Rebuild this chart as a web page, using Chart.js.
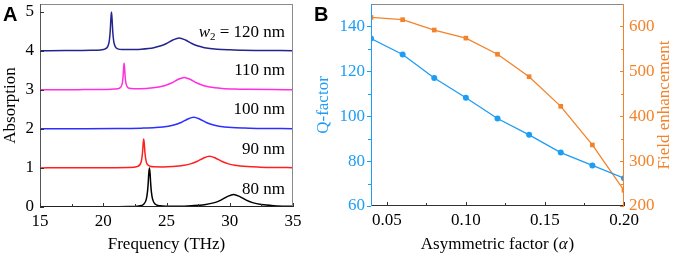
<!DOCTYPE html>
<html><head><meta charset="utf-8">
<script src="https://cdn.jsdelivr.net/npm/chart.js@4"></script>
<style>
html,body{margin:0;padding:0;background:#fff;width:678px;height:258px;overflow:hidden}
#a{position:absolute;left:0;top:0;width:305px;height:258px}
#b{position:absolute;left:305px;top:0;width:373px;height:258px}
</style></head><body>
<div id="a"><canvas id="ca"></canvas></div>
<div id="b"><canvas id="cb"></canvas></div>
<script>
// ---------- Panel A data ----------
const freq80 = [15,17,19,21,22,22.8,23.2,23.4,23.5,23.55,23.6,23.65,23.7,23.75,23.8,23.9,24.1,24.5,25,26,27,28,28.8,29.3,29.8,30.3,30.8,31.3,31.8,32.5,33.5,35];
const abs80  = [0.002,0.003,0.005,0.008,0.011,0.027,0.073,0.195,0.40,0.60,0.86,1.0,0.86,0.60,0.40,0.2,0.075,0.03,0.022,0.021,0.034,0.06,0.112,0.175,0.265,0.32,0.265,0.175,0.112,0.064,0.034,0.016];
const freq90 = [15,17,19,21,22,22.7,23.0,23.1,23.15,23.2,23.25,23.3,23.4,23.5,23.7,24.0,24.7,25.5,26.4,26.9,27.4,27.9,28.4,28.9,29.4,29.9,30.4,31.4,32.4,33.5,35];
const abs90  = [1.002,1.003,1.005,1.008,1.014,1.039,1.158,1.377,1.596,1.742,1.596,1.377,1.158,1.088,1.044,1.029,1.027,1.038,1.07,1.105,1.164,1.249,1.30,1.249,1.164,1.105,1.07,1.035,1.021,1.013,1.008];
const freq100 = [15,18,21,23,24.15,25.15,25.65,26.15,26.65,27.15,27.65,28.15,28.65,29.15,30.15,31.15,32.15,35];
const abs100  = [2.002,2.004,2.009,2.02,2.035,2.07,2.105,2.164,2.249,2.30,2.249,2.164,2.105,2.07,2.035,2.021,2.014,2.006];
const freq110 = [15,18,20,20.9,21.25,21.4,21.49,21.53,21.57,21.61,21.65,21.69,21.73,21.77,21.81,21.9,22.05,22.4,23.4,24.4,24.9,25.4,25.9,26.4,26.9,27.4,27.9,28.4,29.4,30.4,31.4,33.4,35];
const abs110  = [3.003,3.006,3.011,3.02,3.038,3.075,3.147,3.221,3.348,3.549,3.683,3.549,3.348,3.221,3.147,3.077,3.04,3.03,3.038,3.074,3.112,3.175,3.265,3.32,3.265,3.175,3.112,3.074,3.038,3.022,3.015,3.008,3.005];
const freq120 = [15,17,19,19.8,20.15,20.35,20.45,20.5,20.55,20.6,20.65,20.7,20.75,20.8,20.85,20.95,21.15,21.5,22.5,23,24,24.5,25,25.5,26,26.5,27,27.5,28,29,30,31,32,35];
const abs120  = [4.004,4.006,4.013,4.024,4.049,4.11,4.208,4.316,4.502,4.796,4.992,4.796,4.502,4.316,4.208,4.11,4.05,4.033,4.036,4.044,4.082,4.122,4.188,4.278,4.33,4.278,4.188,4.122,4.082,4.042,4.025,4.017,4.012,4.005];
const specNames = ['80 nm','90 nm','100 nm','110 nm','120 nm'];
const specLabelY = [0.45,1.48,2.5,3.5,4.48];
const specLabelX = 34.37;
const specTicksX = [15,20,25,30,35];
const specMinorX = [17.5,22.5,27.5,32.5];
const specTicksY = [0,1,2,3,4,5];

// ---------- Panel B data ----------
const alpha    = [0.04,0.06,0.08,0.10,0.12,0.14,0.16,0.18,0.20];
const qFactor  = [134.6,127.5,117,108.2,99,91.7,83.8,78.1,72.4];
const fieldEnh = [620,615,592,574,538,488,422,336,235];
const alphaTicks = [0.05,0.10,0.15,0.20];
const alphaMinor = [0.075,0.125,0.175];
const qTicks  = [60,80,100,120,140];
const qMinor  = [70,90,110,130];
const feTicks = [200,300,400,500,600];
const feMinor = [250,350,450,550];

const SERIF = "'Liberation Serif','Times New Roman',serif";
const SANS = "'Liberation Sans',Arial,sans-serif";
const BLUE = '#1e9df5', ORANGE = '#f3832a';
const specColors = ['#000000','#ff1f1f','#2e2eff','#ff2edf','#24248f'];

Chart.defaults.font.family = SERIF;
Chart.defaults.font.size = 17;
Chart.defaults.color = '#000';

function pts(xs, ys){ return xs.map((x,i)=>({x:x,y:ys[i]})); }
function setTicks(arr){ return s => { s.ticks = arr.map(v=>({value:v})); }; }
function px(v){ return Math.round(v)+0.5; }
const noGrid = {display:false, drawTicks:false, tickLength:0};

// ---------- Chart A ----------
const freqs = [freq80,freq90,freq100,freq110,freq120];
const abss  = [abs80,abs90,abs100,abs110,abs120];

const frameA = {
  id:'frameA',
  afterDatasetsDraw(chart){
    const {ctx, chartArea:{left,right,top,bottom}, scales:{x,y}} = chart;
    ctx.save();
    ctx.fillStyle = '#000';
    ctx.textBaseline = 'middle';
    const xr = x.getPixelForValue(specLabelX);
    specNames.forEach((n,i)=>{
      const yy = y.getPixelForValue(specLabelY[i]);
      if (i === 4) {
        ctx.font = '17px ' + SERIF;
        const rest = ' = ' + n;
        const wr = ctx.measureText(rest).width;
        ctx.font = '11px ' + SERIF;
        const ws = ctx.measureText('2').width;
        ctx.font = 'italic 17px ' + SERIF;
        const ww = ctx.measureText('w').width;
        let x0 = xr - wr - ws - ww;
        ctx.textAlign = 'left';
        ctx.fillText('w', x0, yy);
        ctx.font = '11px ' + SERIF;
        ctx.fillText('2', x0 + ww, yy + 5);
        ctx.font = '17px ' + SERIF;
        ctx.fillText(rest, x0 + ww + ws, yy);
      } else {
        ctx.font = '17px ' + SERIF;
        ctx.textAlign = 'right';
        ctx.fillText(n, xr, yy);
      }
    });
    ctx.lineWidth = 1;
    ctx.strokeStyle = '#8a8a8a';
    ctx.beginPath();
    ctx.moveTo(left, px(top)); ctx.lineTo(right, px(top));
    ctx.moveTo(px(right-1), top); ctx.lineTo(px(right-1), bottom);
    ctx.stroke();
    ctx.strokeStyle = '#555';
    ctx.beginPath(); ctx.moveTo(px(left), top); ctx.lineTo(px(left), bottom); ctx.stroke();
    ctx.strokeStyle = '#222';
    ctx.beginPath(); ctx.moveTo(left, px(bottom-1)); ctx.lineTo(right, px(bottom-1)); ctx.stroke();
    ctx.strokeStyle = '#333';
    ctx.beginPath();
    specTicksX.forEach(v=>{ const p = px(x.getPixelForValue(v)); ctx.moveTo(p,bottom); ctx.lineTo(p,bottom-4); });
    specMinorX.forEach(v=>{ const p = px(x.getPixelForValue(v)); ctx.moveTo(p,bottom); ctx.lineTo(p,bottom-3); });
    specTicksY.forEach(v=>{ const p = px(y.getPixelForValue(v)); ctx.moveTo(left,p); ctx.lineTo(left+4,p); });
    ctx.stroke();
    ctx.font = 'bold 20px ' + SANS;
    ctx.textAlign = 'left'; ctx.textBaseline = 'alphabetic';
    ctx.fillStyle = '#000';
    ctx.fillText('A', 3, 21);
    ctx.restore();
  }
};

new Chart(document.getElementById('ca'), {
  type:'line',
  data:{ datasets: freqs.map((f,i)=>({
    data: pts(f, abss[i]), borderColor: specColors[i], borderWidth: 1.5,
    pointRadius: 0, cubicInterpolationMode: 'monotone', fill: false
  }))},
  options:{
    responsive:true, maintainAspectRatio:false, animation:false, devicePixelRatio:1,
    layout:{padding:{top:4,right:12,left:0,bottom:0}},
    plugins:{legend:{display:false}, tooltip:{enabled:false}},
    scales:{
      x:{ type:'linear', min:15, max:35, afterBuildTicks:setTicks(specTicksX),
          afterFit:s=>{ s.height=51; s.paddingLeft=0; s.paddingRight=0; },
          grid:noGrid, border:{display:false},
          ticks:{padding:4, maxRotation:0, autoSkip:false, color:'#000'},
          title:{display:true, text:'Frequency (THz)', color:'#000', padding:{top:0,bottom:3}} },
      y:{ type:'linear', min:0, max:5.2, afterBuildTicks:setTicks(specTicksY),
          afterFit:s=>{ s.width=40; s.paddingTop=0; s.paddingBottom=0; },
          grid:noGrid, border:{display:false},
          ticks:{padding:6, color:'#000'},
          title:{display:true, text:'Absorption', color:'#000', padding:{top:0,bottom:0}} }
    }
  },
  plugins:[frameA]
});

// ---------- Chart B ----------
const frameB = {
  id:'frameB',
  afterDatasetsDraw(chart){
    const {ctx, chartArea:{left,right,top,bottom}, scales:{x,y,y2}} = chart;
    ctx.save();
    ctx.lineWidth = 1;
    ctx.strokeStyle = '#8a8a8a';
    ctx.beginPath(); ctx.moveTo(left, px(top)); ctx.lineTo(right, px(top)); ctx.stroke();
    ctx.strokeStyle = '#333';
    ctx.beginPath(); ctx.moveTo(left, px(bottom-1)); ctx.lineTo(right, px(bottom-1)); ctx.stroke();
    ctx.strokeStyle = BLUE;
    ctx.beginPath(); ctx.moveTo(px(left), top); ctx.lineTo(px(left), bottom); ctx.stroke();
    ctx.strokeStyle = ORANGE;
    ctx.beginPath(); ctx.moveTo(px(right-1), top); ctx.lineTo(px(right-1), bottom); ctx.stroke();
    ctx.strokeStyle = '#333';
    ctx.beginPath();
    alphaTicks.forEach(v=>{ const p = px(x.getPixelForValue(v)); ctx.moveTo(p,bottom); ctx.lineTo(p,bottom-4); });
    alphaMinor.forEach(v=>{ const p = px(x.getPixelForValue(v)); ctx.moveTo(p,bottom); ctx.lineTo(p,bottom-3); });
    ctx.stroke();
    ctx.strokeStyle = BLUE;
    ctx.beginPath();
    qTicks.forEach(v=>{ const p = px(y.getPixelForValue(v)); ctx.moveTo(left,p); ctx.lineTo(left-4,p); });
    qMinor.forEach(v=>{ const p = px(y.getPixelForValue(v)); ctx.moveTo(left,p); ctx.lineTo(left-3,p); });
    ctx.stroke();
    ctx.strokeStyle = ORANGE;
    ctx.beginPath();
    feTicks.forEach(v=>{ const p = px(y2.getPixelForValue(v)); ctx.moveTo(right,p); ctx.lineTo(right-4,p); });
    feMinor.forEach(v=>{ const p = px(y2.getPixelForValue(v)); ctx.moveTo(right,p); ctx.lineTo(right-3,p); });
    ctx.stroke();
    // right axis title, reading bottom-to-top
    ctx.save();
    ctx.translate(y2.right - 13, (top + bottom) / 2);
    ctx.rotate(-Math.PI / 2);
    ctx.font = '17px ' + SERIF;
    ctx.fillStyle = ORANGE;
    ctx.textAlign = 'center'; ctx.textBaseline = 'middle';
    ctx.fillText('Field enhancement', 0, 0);
    ctx.restore();
    // x axis title with italic alpha
    {
      const t1 = 'Asymmetric factor (', t2 = '\u03B1', t3 = ')';
      ctx.font = '17px ' + SERIF;
      const w1 = ctx.measureText(t1).width, w3 = ctx.measureText(t3).width;
      ctx.font = 'italic 17px ' + SERIF;
      const w2 = ctx.measureText(t2).width + 1;
      const cx = (left + right) / 2, ty = x.bottom - 13;
      let x0 = cx - (w1 + w2 + w3) / 2;
      ctx.fillStyle = '#000'; ctx.textAlign = 'left'; ctx.textBaseline = 'middle';
      ctx.font = '17px ' + SERIF; ctx.fillText(t1, x0, ty);
      ctx.font = 'italic 17px ' + SERIF; ctx.fillText(t2, x0 + w1, ty);
      ctx.font = '17px ' + SERIF; ctx.fillText(t3, x0 + w1 + w2, ty);
    }
    ctx.font = 'bold 20px ' + SANS;
    ctx.textAlign = 'left'; ctx.textBaseline = 'alphabetic';
    ctx.fillStyle = '#000';
    ctx.fillText('B', 9, 21);
    ctx.restore();
  }
};

new Chart(document.getElementById('cb'), {
  type:'line',
  data:{ datasets:[
    { data: pts(alpha, qFactor), yAxisID:'y', borderColor:BLUE, backgroundColor:BLUE,
      borderWidth:1.3, pointStyle:'circle', pointRadius:3, pointBorderWidth:0,
      pointBackgroundColor:BLUE, tension:0, clip:0 },
    { data: pts(alpha, fieldEnh), yAxisID:'y2', borderColor:ORANGE, backgroundColor:ORANGE,
      borderWidth:1.3, pointStyle:'rect', pointRadius:3.3, pointBorderWidth:0,
      pointBackgroundColor:ORANGE, tension:0, clip:0 }
  ]},
  options:{
    responsive:true, maintainAspectRatio:false, animation:false, devicePixelRatio:1,
    layout:{padding:{top:2,right:0,left:0,bottom:0}},
    plugins:{legend:{display:false}, tooltip:{enabled:false}},
    scales:{
      x:{ type:'linear', min:0.04, max:0.20, afterBuildTicks:setTicks(alphaTicks),
          afterFit:s=>{ s.height=52; s.paddingLeft=0; s.paddingRight=0; },
          grid:noGrid, border:{display:false},
          ticks:{padding:4, maxRotation:0, autoSkip:false, color:'#000', callback:v=>Number(v).toFixed(2)},
          title:{display:false} },
      y:{ type:'linear', position:'left', min:60, max:150, afterBuildTicks:setTicks(qTicks),
          afterFit:s=>{ s.width=66; s.paddingTop=0; s.paddingBottom=0; },
          grid:noGrid, border:{display:false},
          ticks:{padding:6, color:BLUE},
          title:{display:true, text:'Q-factor', color:BLUE, padding:{top:8,bottom:0}} },
      y2:{ type:'linear', position:'right', min:200, max:650, afterBuildTicks:setTicks(feTicks),
          afterFit:s=>{ s.width=54; s.paddingTop=0; s.paddingBottom=0; },
          grid:noGrid, border:{display:false},
          ticks:{padding:5, color:ORANGE},
          title:{display:false} }
    }
  },
  plugins:[frameB]
});
</script>
</body></html>
